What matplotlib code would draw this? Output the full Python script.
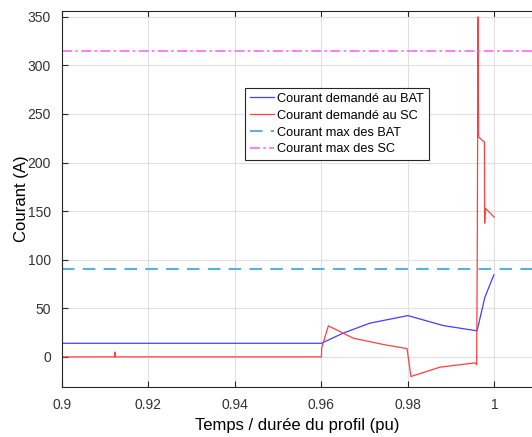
import matplotlib
matplotlib.use("Agg")
import matplotlib.pyplot as plt

plt.rcParams['font.family'] = ['Liberation Sans', 'DejaVu Sans']

# Courant demandé à la batterie (BAT)
t_bat = [0.9, 0.96, 0.965, 0.9712, 0.98, 0.9882, 0.996, 0.9978, 0.99988]
i_bat = [14, 14, 24.4, 34.7, 42.5, 32.2, 26.8, 61.4, 84.4]

# Courant demandé aux supercondensateurs (SC)
t_sc = [0.9, 0.9122, 0.91225, 0.9123, 0.96, 0.96005, 0.9616, 0.9674, 0.9747,
        0.9798, 0.9807, 0.9874, 0.9955, 0.9959, 0.99605, 0.9962, 0.99635,
        0.9964, 0.9977, 0.99775, 0.9979, 0.99995]
i_sc = [0, 0, 5, 0, 0, 9, 31.9, 19.2, 12.4,
        8.5, -20.2, -10.6, -6.2, -8, 115, 350, 226.8,
        226, 221, 137.6, 153, 143.8]

# Limites de courant
i_max_bat = 90
i_max_sc = 315

x_ticks = [0.9, 0.92, 0.94, 0.96, 0.98, 1.0]
x_tick_labels = ['0.9', '0.92', '0.94', '0.96', '0.98', '1']
y_ticks = [0, 50, 100, 150, 200, 250, 300, 350]

fig = plt.figure(figsize=(5.32, 4.37), dpi=100)
ax = fig.add_axes([62 / 532, 50 / 437, 1 - 62 / 532, 376 / 437])

ax.plot(t_bat, i_bat, color='#4040ff', lw=0.9, label='Courant demandé au BAT')
ax.plot(t_sc, i_sc, color='#ff4040', lw=0.9, label='Courant demandé au SC')
ax.axhline(i_max_bat, color='#5aaee0', lw=1.5, ls=(0, (6, 4)), label='Courant max des BAT')
ax.axhline(i_max_sc, color='#ff66ff', lw=1.2, ls=(0, (6, 2, 1.5, 2)), label='Courant max des SC')

ax.set_xlim(0.9, 1.0087)
ax.set_ylim(-31, 356)
ax.set_xticks(x_ticks)
ax.set_xticklabels(x_tick_labels)
ax.set_yticks(y_ticks)

ax.grid(True, color='#e0e0e0', lw=0.8)
ax.set_axisbelow(True)
ax.tick_params(direction='in', top=True, right=False, length=4, width=0.8,
               colors='#262626', labelsize=10, pad=8, labelcolor='#333333')
for side in ['left', 'bottom', 'top']:
    ax.spines[side].set_color('#262626')
    ax.spines[side].set_linewidth(0.8)
ax.spines['right'].set_visible(False)

ax.set_xlabel('Temps / durée du profil (pu)', fontsize=12)
ax.set_ylabel('Courant (A)', fontsize=12, labelpad=-1)

leg = ax.legend(loc='upper left', bbox_to_anchor=((245 - 62) / 470, (387 - 88) / 376),
                fontsize=9.2, frameon=True, fancybox=False, framealpha=1,
                edgecolor='#262626', handlelength=1.9, borderpad=0.38,
                labelspacing=0.38, handletextpad=0.25, borderaxespad=0)
leg.get_frame().set_linewidth(0.8)

fig.savefig('out.png', dpi=100)
